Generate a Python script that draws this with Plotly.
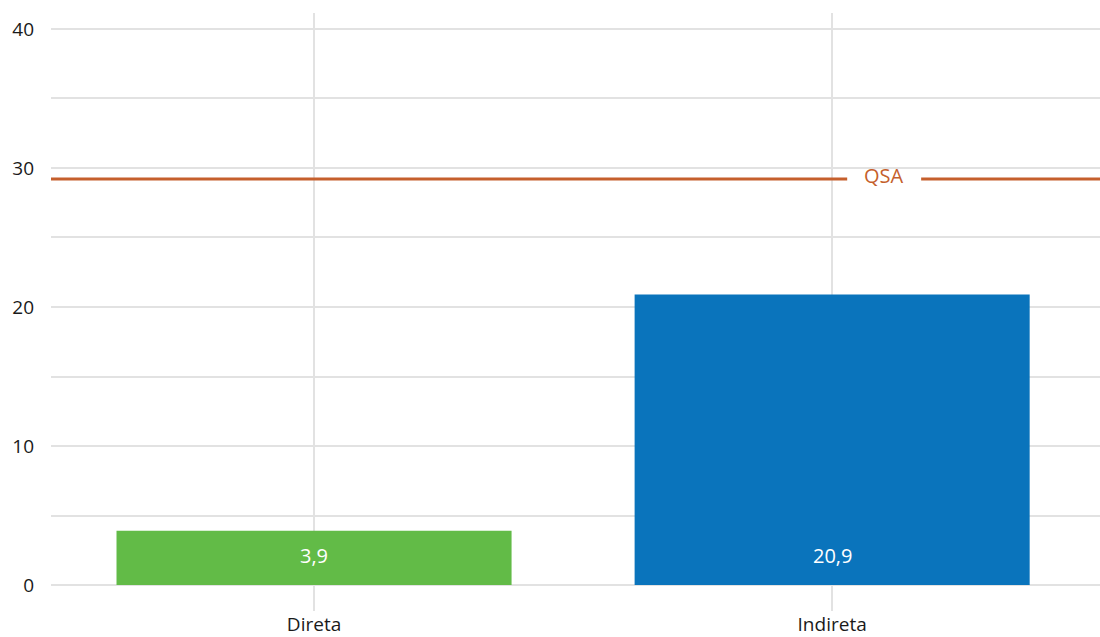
import plotly.graph_objects as go

# Categories and values
categories = ["Direta", "Indireta"]
values = [3.9, 20.9]
bar_colors = ["#62BB47", "#0A74BC"]

# Reference threshold
qsa_label = "QSA"
qsa_value = 29.2

# Y axis ticks
y_major = [0, 10, 20, 30, 40]
y_minor = [5, 15, 25, 35]

FONT = "Open Sans, Liberation Sans, sans-serif"
QSA_COLOR = "#C55F2C"
GRID = "#E2E2E2"
TEXT = "#1A1A1A"

fig = go.Figure()
fig.add_trace(go.Bar(
    x=categories,
    y=values,
    marker=dict(color=bar_colors, line=dict(width=0)),
    width=0.7625,
    hoverinfo="skip",
))

# Value labels inside the bars, near the base
for cat, val in zip(categories, values):
    fig.add_annotation(
        x=cat, y=2.15, xref="x", yref="y",
        text=f"{val:.1f}".replace(".", ","),
        showarrow=False,
        font=dict(family=FONT, size=20, color="white"),
    )

# Threshold line, split around its label
gap_start, gap_end, label_x = 0.759, 0.8295, 0.794
for x0, x1 in [(0, gap_start), (gap_end, 1)]:
    fig.add_shape(
        type="line", xref="paper", yref="y",
        x0=x0, x1=x1, y0=qsa_value, y1=qsa_value,
        line=dict(color=QSA_COLOR, width=3),
    )
fig.add_annotation(
    x=label_x, y=qsa_value, xref="paper", yref="y",
    xanchor="center", yanchor="middle",
    text=qsa_label, showarrow=False, yshift=4,
    font=dict(family=FONT, size=20, color=QSA_COLOR),
)

fig.update_layout(
    width=1100, height=637,
    margin=dict(l=51, r=0, t=13, b=26),
    plot_bgcolor="white", paper_bgcolor="white",
    showlegend=False,
    font=dict(family=FONT, size=20, color=TEXT),
    xaxis=dict(
        type="category",
        range=[-0.5077, 1.517],
        automargin=False,
        showgrid=True, gridcolor=GRID, gridwidth=2,
        ticks="", showline=False, zeroline=False,
        ticklabelstandoff=0,
        tickfont=dict(family=FONT, size=19, color=TEXT),
    ),
    yaxis=dict(
        range=[-1.87, 41.15],
        automargin=False,
        tickvals=y_major,
        showgrid=True, gridcolor=GRID, gridwidth=2,
        minor=dict(tickvals=y_minor, showgrid=True, gridcolor=GRID, gridwidth=2),
        ticks="", showline=False, zeroline=False,
        ticklabelstandoff=16,
        tickfont=dict(family=FONT, size=19, color=TEXT),
    ),
)

fig.write_html("out.html")
